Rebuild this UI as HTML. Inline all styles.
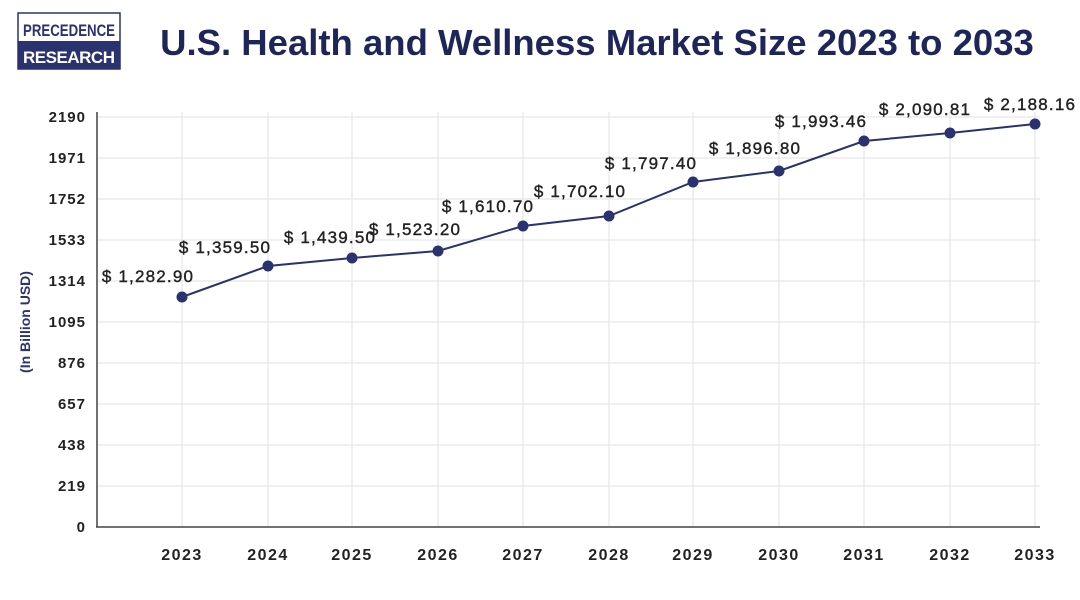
<!DOCTYPE html>
<html><head><meta charset="utf-8"><style>
body{margin:0;background:#fff;width:1080px;height:595px;overflow:hidden;font-family:"Liberation Sans",sans-serif}
</style></head><body>
<svg width="1080" height="595" xmlns="http://www.w3.org/2000/svg" font-family="Liberation Sans, sans-serif">
<rect x="18" y="13" width="102" height="56" fill="#fff" stroke="#2a3270" stroke-width="1.5"/>
<rect x="18" y="41" width="102" height="28" fill="#2a3270"/>
<text x="69" y="36" text-anchor="middle" font-size="17" font-weight="bold" fill="#2a3270" textLength="92" lengthAdjust="spacingAndGlyphs">PRECEDENCE</text>
<text x="69" y="63" text-anchor="middle" font-size="17" font-weight="bold" fill="#fff" textLength="92" lengthAdjust="spacing">RESEARCH</text>
<text x="597" y="55" text-anchor="middle" font-size="36.5" font-weight="bold" fill="#1e2559">U.S. Health and Wellness Market Size 2023 to 2033</text>
<g stroke="#e6e6e6" stroke-width="1.2">
<line x1="97" x2="1040" y1="117" y2="117"/><line x1="97" x2="1040" y1="158" y2="158"/><line x1="97" x2="1040" y1="199" y2="199"/><line x1="97" x2="1040" y1="240" y2="240"/><line x1="97" x2="1040" y1="281" y2="281"/><line x1="97" x2="1040" y1="322" y2="322"/><line x1="97" x2="1040" y1="363" y2="363"/><line x1="97" x2="1040" y1="404" y2="404"/><line x1="97" x2="1040" y1="445" y2="445"/><line x1="97" x2="1040" y1="486" y2="486"/>
<line x1="182" x2="182" y1="112" y2="527"/><line x1="268" x2="268" y1="112" y2="527"/><line x1="352" x2="352" y1="112" y2="527"/><line x1="438" x2="438" y1="112" y2="527"/><line x1="523" x2="523" y1="112" y2="527"/><line x1="609" x2="609" y1="112" y2="527"/><line x1="693" x2="693" y1="112" y2="527"/><line x1="779" x2="779" y1="112" y2="527"/><line x1="864" x2="864" y1="112" y2="527"/><line x1="950" x2="950" y1="112" y2="527"/><line x1="1035" x2="1035" y1="112" y2="527"/>
</g>
<line x1="97" y1="112" x2="97" y2="527" stroke="#444" stroke-width="1.5"/>
<line x1="96" y1="527" x2="1040" y2="527" stroke="#444" stroke-width="1.5"/>
<g font-size="15" font-weight="bold" fill="#222" text-anchor="end" letter-spacing="1">
<text x="86" y="122">2190</text><text x="86" y="163">1971</text><text x="86" y="204">1752</text><text x="86" y="245">1533</text><text x="86" y="286">1314</text><text x="86" y="327">1095</text><text x="86" y="368">876</text><text x="86" y="409">657</text><text x="86" y="450">438</text><text x="86" y="491">219</text><text x="86" y="532">0</text>
</g>
<text transform="translate(30,322) rotate(-90)" text-anchor="middle" font-size="14" font-weight="bold" fill="#2a3270">(In Billion USD)</text>
<g font-size="16" font-weight="bold" fill="#222" text-anchor="middle" letter-spacing="1.5">
<text x="182" y="560">2023</text><text x="268" y="560">2024</text><text x="352" y="560">2025</text><text x="438" y="560">2026</text><text x="523" y="560">2027</text><text x="609" y="560">2028</text><text x="693" y="560">2029</text><text x="779" y="560">2030</text><text x="864" y="560">2031</text><text x="950" y="560">2032</text><text x="1035" y="560">2033</text>
</g>
<polyline fill="none" stroke="#2a3270" stroke-width="2" points="182,297 268,266 352,258 438,251 523,226 609,216 693,182 779,171 864,141 950,133 1035,124"/>
<g fill="#2a3270">
<circle cx="182" cy="297" r="5.5"/><circle cx="268" cy="266" r="5.5"/><circle cx="352" cy="258" r="5.5"/><circle cx="438" cy="251" r="5.5"/><circle cx="523" cy="226" r="5.5"/><circle cx="609" cy="216" r="5.5"/><circle cx="693" cy="182" r="5.5"/><circle cx="779" cy="171" r="5.5"/><circle cx="864" cy="141" r="5.5"/><circle cx="950" cy="133" r="5.5"/><circle cx="1035" cy="124" r="5.5"/>
</g>
<g font-size="17" fill="#222" text-anchor="middle" letter-spacing="1.2" stroke="#222" stroke-width="0.4">
<text x="148" y="282">$ 1,282.90</text><text x="225" y="253">$ 1,359.50</text><text x="330" y="243">$ 1,439.50</text><text x="415" y="235">$ 1,523.20</text><text x="488" y="212">$ 1,610.70</text><text x="580" y="197">$ 1,702.10</text><text x="651" y="169">$ 1,797.40</text><text x="755" y="154">$ 1,896.80</text><text x="821" y="127">$ 1,993.46</text><text x="925" y="115">$ 2,090.81</text><text x="1030" y="110">$ 2,188.16</text>
</g>
</svg>
</body></html>
